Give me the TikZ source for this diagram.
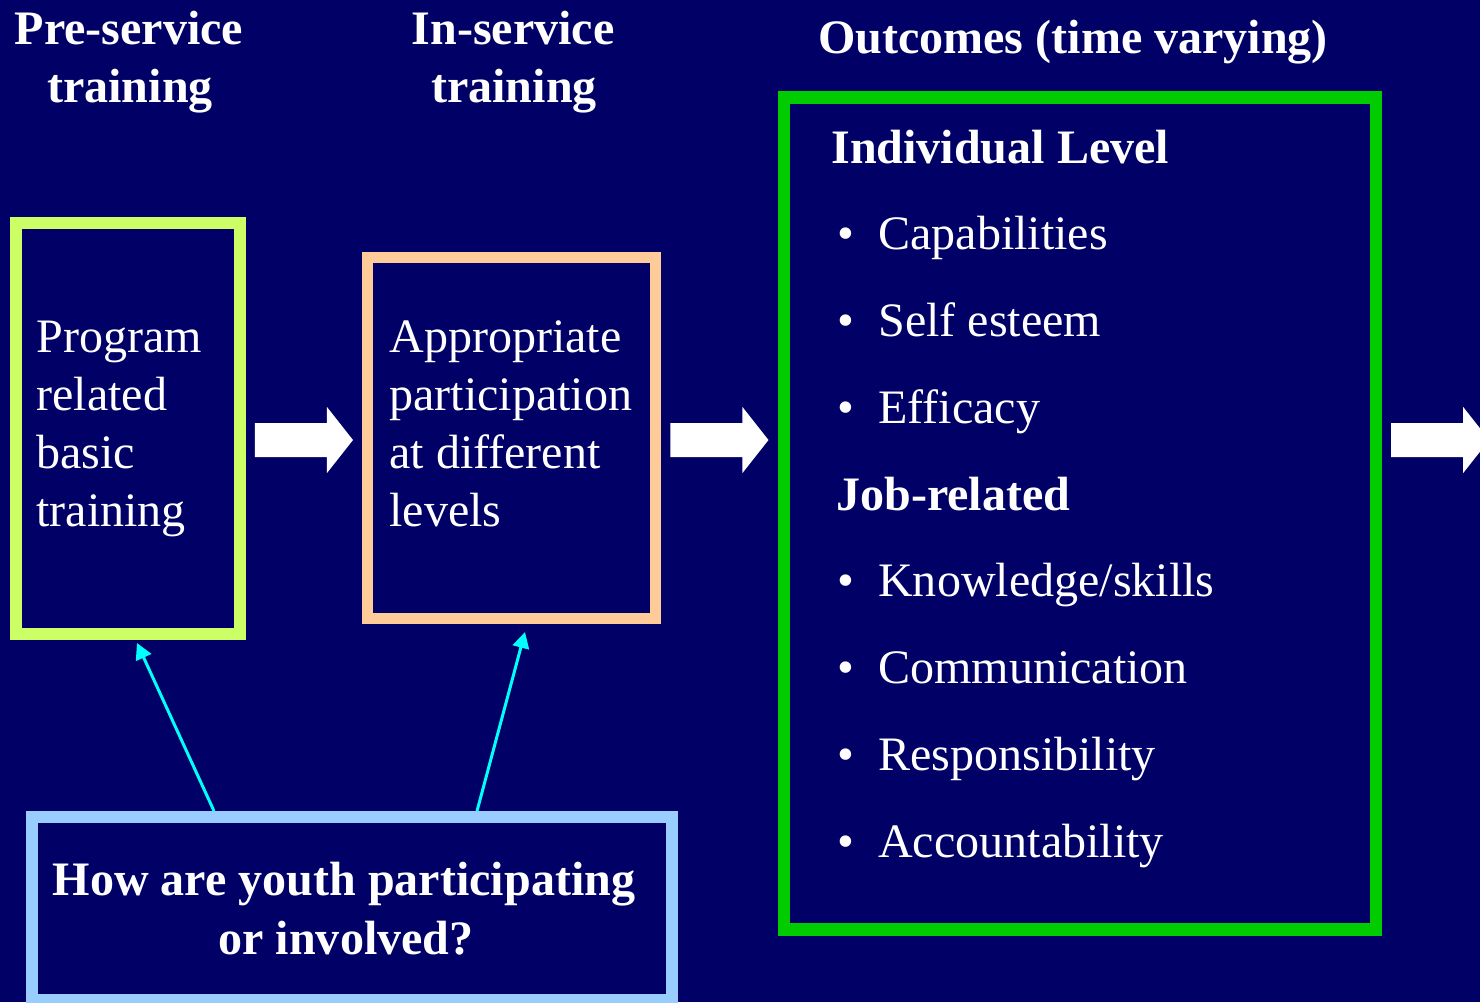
\documentclass[tikz,border=0pt]{standalone}
\usepackage{fontspec}
\setmainfont{Liberation Serif}
\usetikzlibrary{arrows.meta}

\definecolor{navy}{HTML}{000066}
\definecolor{limebox}{HTML}{CCFF66}
\definecolor{peachbox}{HTML}{FFCC99}
\definecolor{skybox}{HTML}{99CCFF}
\definecolor{greenbox}{HTML}{00CC00}
\definecolor{linkcyan}{HTML}{00FFFF}

% fat white arrow that starts just right of a box
\newcommand{\blockarrow}[1]{%
  \fill[white] (#1.east |- 0,440) ++(9,-17) -- ++(72,0) -- ++(0,-16) -- ++(26,33)
    -- ++(-26,33) -- ++(0,-16) -- ++(-72,0) -- cycle;}

\begin{document}
\begin{tikzpicture}[x=0.02cm, y=-0.02cm,
  box/.style={draw, line width=0.24cm, inner sep=0pt},
  heading/.style={font=\fontsize{27.35}{33}\selectfont\bfseries, text=white, inner sep=0pt, anchor=base},
  body/.style={font=\fontsize{27.35}{33}\selectfont, text=white, inner sep=0pt, anchor=base west},
  link/.style={linkcyan, line width=0.06cm, -{Triangle[length=0.32cm, width=0.33cm]}}]

    % Background
    \useasboundingbox (0,0) rectangle (1480,1002);
    \fill[navy] (0,0) rectangle (1480,1002);

    % Column titles
    \node[heading] (pretitle) at (129,44) {Pre-service};
    \node[heading] (pretitleb) at (130,102) {training};
    \node[heading] (intitle) at (513,44) {In-service};
    \node[heading] (intitleb) at (514,102) {training};
    \node[heading] (outtitle) at (1073,53) {Outcomes (time varying)};

    % Boxes
    \node[box, limebox, minimum width=4.48cm, minimum height=8.22cm] (pre) at (128,428.5) {};
    \node[box, peachbox, line width=0.22cm, minimum width=5.78cm, minimum height=7.22cm] (ins) at (511.5,438) {};
    \node[box, greenbox, line width=0.25cm, minimum width=11.84cm, minimum height=16.64cm] (out) at (1080,513.5) {};
    \node[box, skybox, minimum width=12.8cm, minimum height=3.66cm] (how) at (352,908.5) {};

    % Box texts
    \foreach \txt [count=\i] in {Program, related, basic, training}
        \node[body] (pretxt\i) at (36,{294+\i*58}) {\txt};
    \foreach \txt [count=\i] in {Appropriate, participation, at different, levels}
        \node[body] (instxt\i) at (389,{294+\i*58}) {\txt};

    \node[body, font=\fontsize{27.35}{33}\selectfont\bfseries] (indiv) at (831,163) {Individual Level};
    \foreach \txt [count=\i] in {Capabilities, Self esteem, Efficacy}
        \node[body] (ind\i) at (837,{163+\i*86.75}) {\makebox[0.82cm][l]{\textbullet}\txt};
    \node[body, font=\fontsize{27.35}{33}\selectfont\bfseries] (job) at (836,510) {Job-related};
    \foreach \txt [count=\i] in {Knowledge/skills, Communication, Responsibility, Accountability}
        \node[body] (job\i) at (837,{510+\i*86.75}) {\makebox[0.82cm][l]{\textbullet}\txt};

    \node[heading] (howtxt) at (344,895) {How are youth participating};
    \node[heading] (howtxtb) at (346,954) {or involved?};

    % Fat arrows between stages
    \blockarrow{pre}
    \blockarrow{ins}
    \blockarrow{out}

    % Cyan links up from the question box
    \coordinate (pretip) at (137,643);
    \coordinate (instip) at (525,632);
    \draw[link] (how.north -| 214,0) -- (pretip);
    \draw[link] (how.north -| 477,0) -- (instip);

\end{tikzpicture}
\end{document}
